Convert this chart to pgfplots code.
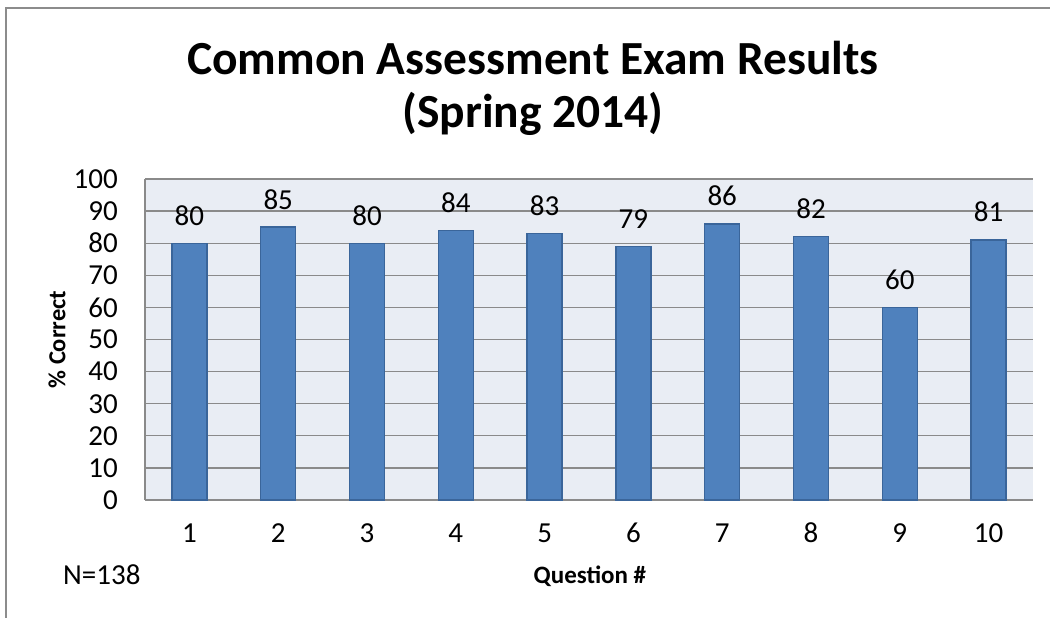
\documentclass[border=0pt]{standalone}
\usepackage{pgfplots}
\pgfplotsset{compat=1.18}
\usepackage{fontspec}
\setmainfont{Carlito}
\definecolor{barfill}{HTML}{4F81BD}
\definecolor{baredge}{HTML}{3A659A}
\definecolor{bgcol}{HTML}{E9EDF4}
\definecolor{gridc}{HTML}{8A8A8A}
\definecolor{framec}{HTML}{8C8C8C}
\begin{document}
\begin{tikzpicture}
\useasboundingbox (0,0) rectangle (1050pt,618pt);
\draw[framec, line width=2pt] (6pt,0pt) -- (6pt,610pt) -- (1050pt,610pt);
\node[anchor=base, inner sep=0pt, font=\fontsize{47.5}{52}\selectfont\bfseries] at (533pt,543pt) {Common Assessment Exam Results};
\node[anchor=base, inner sep=0pt, font=\fontsize{47.5}{52}\selectfont\bfseries] at (533pt,490pt) {(Spring 2014)};
\node[anchor=base west, inner sep=0pt, font=\fontsize{29}{34}\selectfont] at (63pt,33pt) {N=138};
\begin{axis}[
  at={(145pt,118pt)}, anchor=south west,
  scale only axis, width=888pt, height=321pt,
  xmin=0.5, xmax=10.5, ymin=0, ymax=100,
  xtick={1,2,3,4,5,6,7,8,9,10},
  ytick={0,10,20,30,40,50,60,70,80,90,100},
  /pgf/number format/assume math mode=true,
  major tick length=0pt,
  axis lines=left,
  axis line style={-, draw=gridc, line width=1.3pt},
  ymajorgrids, grid style={draw=gridc, line width=1.3pt},
  axis background/.style={fill=bgcol},
  tick label style={font=\fontsize{29}{34}\selectfont, inner sep=0pt},
  xticklabel style={anchor=base, yshift=-43pt},
  yticklabel style={anchor=east},
  yticklabel shift=27pt,
  ylabel={\% Correct},
  xlabel={Question \#},
  every axis y label/.style={at={(axis description cs:-0.0991,0.5)}, rotate=90, anchor=center, font=\fontsize{24.5}{28}\selectfont\bfseries},
  every axis x label/.style={at={(axis description cs:0.501,-0.2586)}, anchor=base, inner sep=0pt, font=\fontsize{25}{28}\selectfont\bfseries},
  nodes near coords,
  every node near coord/.append style={font=\fontsize{29}{34}\selectfont, inner sep=0pt, anchor=base, yshift=18pt},
  clip=false,
]
\addplot[ybar, bar width=35pt, fill=barfill, draw=baredge, line width=1.3pt]
coordinates {(1,80) (2,85) (3,80) (4,84) (5,83) (6,79) (7,86) (8,82) (9,60) (10,81)};
\end{axis}
\end{tikzpicture}
\end{document}
